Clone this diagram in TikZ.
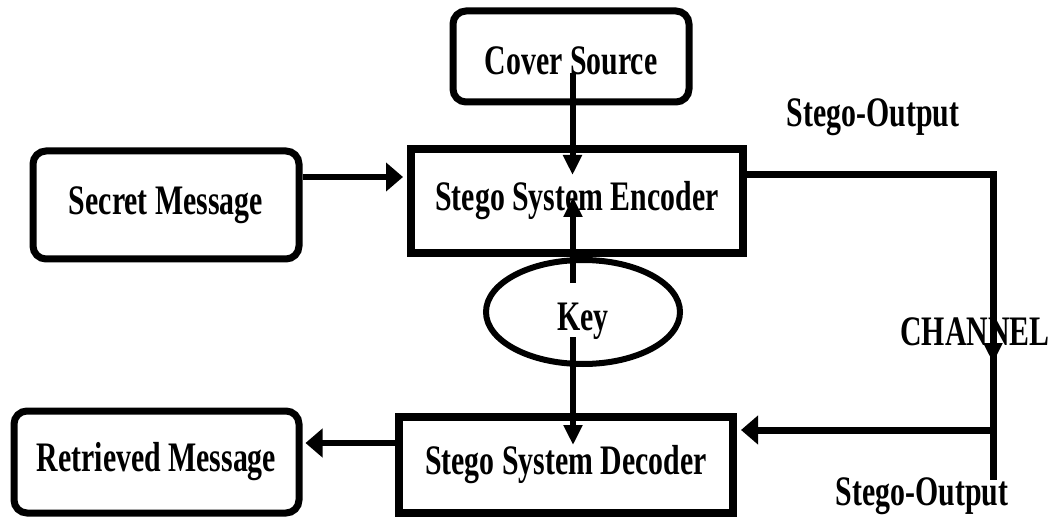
\documentclass[tikz,border=0pt]{standalone}
\usepackage{fontspec}
\setmainfont{Liberation Serif}[FakeStretch=0.71]
\usetikzlibrary{arrows.meta,shapes.geometric}
\begin{document}
\begin{tikzpicture}[x=0.5pt,y=-0.5pt,
  every node/.style={font=\fontsize{21}{25}\selectfont\bfseries},
  rbox/.style={draw, line width=3.5pt, rounded corners=6.5pt, inner sep=0pt, align=center},
  sbox/.style={draw, line width=4pt, inner sep=0pt, align=center},
  conn/.style={line width=3pt},
  htip/.style={-{Triangle[length=8.5pt,width=14pt]}},
  vtip/.style={-{Triangle[length=10pt,width=9pt]}},
  chan/.style={line width=3.5pt},
  lbl/.style={anchor=base, inner sep=0pt}]
\useasboundingbox (0,0) rectangle (1054,518);
% nodes
\node[rbox, minimum width=118pt, minimum height=45.5pt, text height=18.5pt, text depth=0pt] (cover) at (571,56.5) {Cover Source};
\node[rbox, minimum width=133pt, minimum height=54pt] (secret) at (166,205) {Secret Message};
\node[sbox, minimum width=166pt, minimum height=52pt] (enc) at (577,201) {Stego System Encoder};
\node[draw, ellipse, line width=3pt, inner sep=0pt, minimum width=97pt, minimum height=52pt, text height=18.5pt, text depth=0pt] (key) at (583,312) {Key};
\node[sbox, minimum width=167pt, minimum height=48pt] (dec) at (566,465) {Stego System Decoder};
\node[rbox, minimum width=142.5pt, minimum height=51pt] (ret) at (156.5,462) {Retrieved Message};
\node[lbl] (so1) at (873,127) {Stego-Output};
\node[lbl] (ch) at (975,345) {CHANNEL};
\node[lbl] (so2) at (922,505) {Stego-Output};
% coordinates
\coordinate (ys) at (0,177);
\coordinate (yr) at (0,443);
\coordinate (cvs) at (572.5,73);
\coordinate (cvt) at (572.5,175);
\coordinate (kus) at (573,283);
\coordinate (kut) at (573,197);
\coordinate (kds) at (573,337);
\coordinate (kdt) at (573,445);
\coordinate (cr) at (993,175);
\coordinate (cm) at (993,363);
\coordinate (cj) at (993,430);
\coordinate (cb) at (993,480);
% connectors
\draw[conn, htip, shorten >=2pt] (secret.east |- ys) -- (enc.west |- ys);
\draw[conn, htip, shorten >=1.5pt] (dec.west |- yr) -- (ret.east |- yr);
\draw[conn, vtip] (cvs) -- (cvt);
\draw[conn, vtip] (kus) -- (kut);
\draw[conn, vtip] (kds) -- (kdt);
\draw[chan] (enc.east |- cr) -- (cr) -- (cb);
\draw[chan, vtip] (cr) -- (cm);
\draw[chan, htip, shorten >=2pt] (cj) -- (dec.east |- cj);
\end{tikzpicture}
\end{document}
